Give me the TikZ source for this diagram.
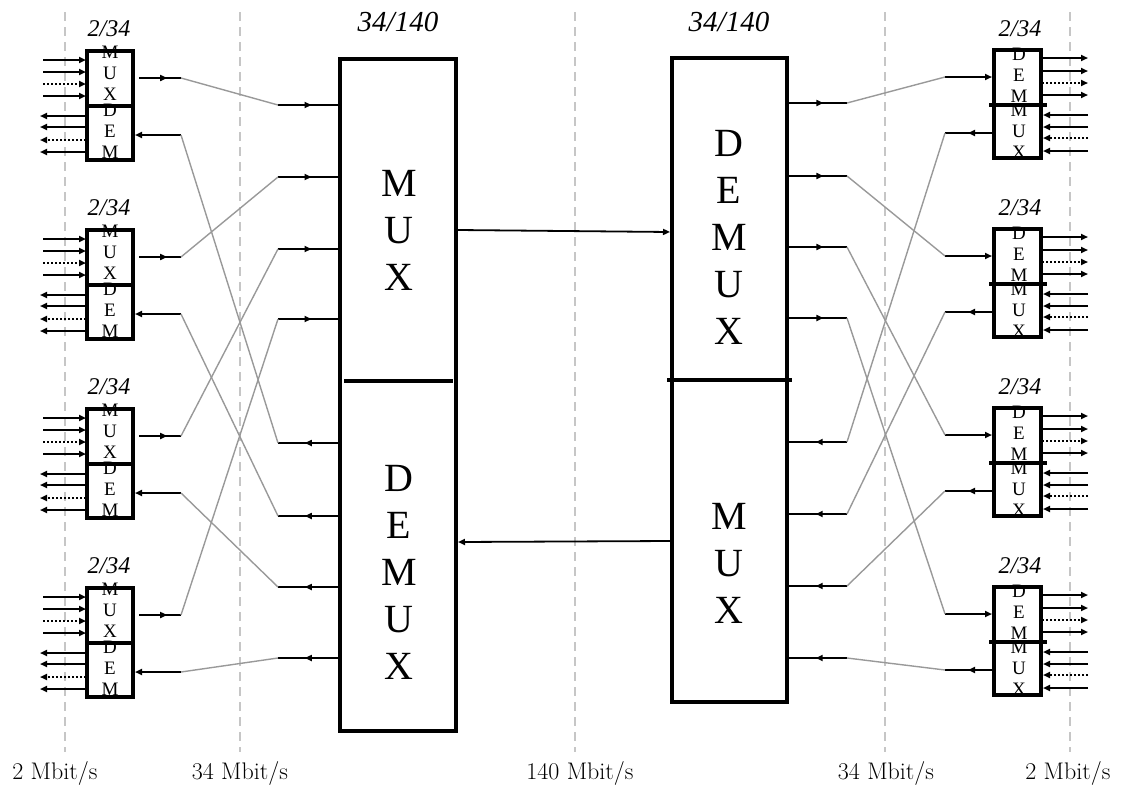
\documentclass[tikz,border=0pt]{standalone}
\usepackage{fontspec}
\newfontfamily\tms{Liberation Serif}
\usetikzlibrary{arrows.meta,decorations.markings}
\begin{document}
\begin{tikzpicture}[x=1pt,y=-1pt,
  sep/.style={gray!45, line width=1.3pt, dash pattern=on 9pt off 6pt},
  wire/.style={line width=1.8pt},
  tip/.style={-{Triangle[length=7pt,width=6pt]}},
  dotw/.style={dash pattern=on 2pt off 2pt},
  midarrow/.style={postaction={decorate},decoration={markings,mark=at position #1 with {\arrow{Triangle[length=7pt,width=6pt]}}}},
  xlink/.style={gray!80, line width=1.4pt},
  bigbox/.style={draw, line width=3.5pt, minimum width=116pt, inner sep=0pt},
  smallbox/.style={draw, line width=4pt, inner sep=0pt},
  bigtxt/.style={align=center, inner sep=0pt, font=\tms\fontsize{40}{47}\selectfont},
  smalltxt/.style={align=center, inner sep=0pt, font=\tms\fontsize{19}{21}\selectfont},
  ratio/.style={inner sep=0pt, font=\tms\itshape\fontsize{24}{24}\selectfont},
  bigratio/.style={inner sep=0pt, font=\tms\itshape\fontsize{29}{29}\selectfont},
  rate/.style={inner sep=0pt, anchor=base, font=\fontsize{24}{24}\selectfont}
]
\useasboundingbox (0,0) rectangle (1125,785);

% separators
\foreach \x [count=\i] in {65,240,575,885,1070} {
  \coordinate (st\i) at (\x,12);
  \coordinate (sb\i) at (\x,752);
  \draw[sep] (st\i) -- (sb\i);
}

% big boxes
\node[bigtxt] (LMt) at (399,230) {M\\U\\X};
\node[bigtxt] (LDt) at (399,572) {D\\E\\M\\U\\X};
\node[bigtxt] (RDt) at (729,237) {D\\E\\M\\U\\X};
\node[bigtxt] (RMt) at (729,563) {M\\U\\X};
\node[bigbox, minimum height=672pt] (LB) at (398,395) {};
\node[bigbox, minimum width=115pt, minimum height=644pt] (RB) at (729.5,380) {};
\coordinate (LBd1) at (344,381); \coordinate (LBd2) at (453,381);
\draw[line width=3.5pt] (LBd1) -- (LBd2);
\coordinate (RBd1) at (667,380); \coordinate (RBd2) at (792,380);
\draw[line width=3.5pt] (RBd1) -- (RBd2);
\node[bigratio] (LBr) at (398,22) {34/140};
\node[bigratio] (RBr) at (729,22) {34/140};

% 140 Mbit/s links
\coordinate (h1a) at (458,230); \coordinate (h1b) at (670,232);
\draw[wire, tip] (h1a) -- (h1b);
\coordinate (h2a) at (670,541); \coordinate (h2b) at (458,542);
\draw[wire, tip] (h2a) -- (h2b);

% left big box stubs
\foreach \y [count=\i] in {105,177,249,319} {
  \coordinate (LMia\i) at (278,\y); \coordinate (LMib\i) at (339,\y);
  \draw[wire, midarrow=0.55] (LMia\i) -- (LMib\i);
}
\foreach \y [count=\i] in {443,516,587,658} {
  \coordinate (LDoa\i) at (339,\y); \coordinate (LDob\i) at (278,\y);
  \draw[wire, midarrow=0.56] (LDoa\i) -- (LDob\i);
}
% right big box stubs
\foreach \y [count=\i] in {103,176,247,318} {
  \coordinate (RDoa\i) at (788,\y); \coordinate (RDob\i) at (847,\y);
  \draw[wire, midarrow=0.6] (RDoa\i) -- (RDob\i);
}
\foreach \y [count=\i] in {442,514,586,658} {
  \coordinate (RMia\i) at (847,\y); \coordinate (RMib\i) at (788,\y);
  \draw[wire, midarrow=0.53] (RMia\i) -- (RMib\i);
}

% left small boxes
\foreach \k in {1,2,3,4} {
  \pgfmathsetmacro\dy{179*(\k-1)}
  \node[ratio] (lr\k) at (109,29+\dy) {2/34};
  \node[smalltxt] (lmt\k) at (110,73+\dy) {M\\U\\X};
  \node[smalltxt] (ldt\k) at (110,131+\dy) {D\\E\\M};
  \node[smallbox, minimum width=46pt, minimum height=109pt] (lsb\k) at (110,105.5+\dy) {};
  \coordinate (lsd\k a) at (87,106+\dy); \coordinate (lsd\k b) at (133,106+\dy);
  \draw[line width=4pt] (lsd\k a) -- (lsd\k b);
  \foreach \yy/\st [count=\j] in {60/solid,72/solid,84/dotw,96/solid} {
    \coordinate (lin\k\j) at (43,\yy+\dy); \coordinate (line\k\j) at (86,\yy+\dy);
    \draw[wire, tip, \st] (lin\k\j) -- (line\k\j);
  }
  \foreach \yy/\st [count=\j] in {116/solid,127/solid,140/dotw,152/solid} {
    \coordinate (lot\k\j) at (86,\yy+\dy); \coordinate (lote\k\j) at (40,\yy+\dy);
    \draw[wire, tip, \st] (lot\k\j) -- (lote\k\j);
  }
  \coordinate (lmo\k) at (139,78+\dy); \coordinate (lmoe\k) at (181,78+\dy);
  \draw[wire, midarrow=0.67] (lmo\k) -- (lmoe\k);
  \coordinate (ldi\k) at (181,135+\dy); \coordinate (ldie\k) at (135,135+\dy);
  \draw[wire, tip] (ldi\k) -- (ldie\k);
  \draw[xlink] (lmoe\k) -- (LMia\k);
  \draw[xlink] (ldi\k) -- (LDob\k);
}

% right small boxes
\foreach \k in {1,2,3,4} {
  \pgfmathsetmacro\dy{179*(\k-1)}
  \node[ratio] (rr\k) at (1020,29+\dy) {2/34};
  \node[smalltxt] (rdt\k) at (1019,75+\dy) {D\\E\\M};
  \node[smalltxt] (rmt\k) at (1019,131+\dy) {M\\U\\X};
  \node[smallbox, minimum width=47pt, minimum height=108pt] (rsb\k) at (1017.5,104+\dy) {};
  \coordinate (rsd\k a) at (989,105+\dy); \coordinate (rsd\k b) at (1047,105+\dy);
  \draw[line width=4pt] (rsd\k a) -- (rsd\k b);
  \foreach \yy/\st [count=\j] in {58/solid,71/solid,83/dotw,95/solid} {
    \coordinate (rot\k\j) at (1042,\yy+\dy); \coordinate (rote\k\j) at (1088,\yy+\dy);
    \draw[wire, tip, \st] (rot\k\j) -- (rote\k\j);
  }
  \foreach \yy/\st [count=\j] in {115/solid,127/solid,138/dotw,151/solid} {
    \coordinate (rin\k\j) at (1088,\yy+\dy); \coordinate (rine\k\j) at (1043,\yy+\dy);
    \draw[wire, tip, \st] (rin\k\j) -- (rine\k\j);
  }
  \coordinate (rdi\k) at (945,77+\dy); \coordinate (rdie\k) at (992,77+\dy);
  \draw[wire, tip] (rdi\k) -- (rdie\k);
  \coordinate (rmo\k) at (992,133+\dy); \coordinate (rmoe\k) at (945,133+\dy);
  \draw[wire, midarrow=0.51] (rmo\k) -- (rmoe\k);
  \draw[xlink] (RDob\k) -- (rdi\k);
  \draw[xlink] (RMia\k) -- (rmoe\k);
}

% rate labels
\node[rate] (t1) at (55,779) {2 Mbit/s};
\node[rate] (t2) at (240,779) {34 Mbit/s};
\node[rate] (t3) at (580,779) {140 Mbit/s};
\node[rate] (t4) at (886,779) {34 Mbit/s};
\node[rate] (t5) at (1068,779) {2 Mbit/s};
\end{tikzpicture}
\end{document}
